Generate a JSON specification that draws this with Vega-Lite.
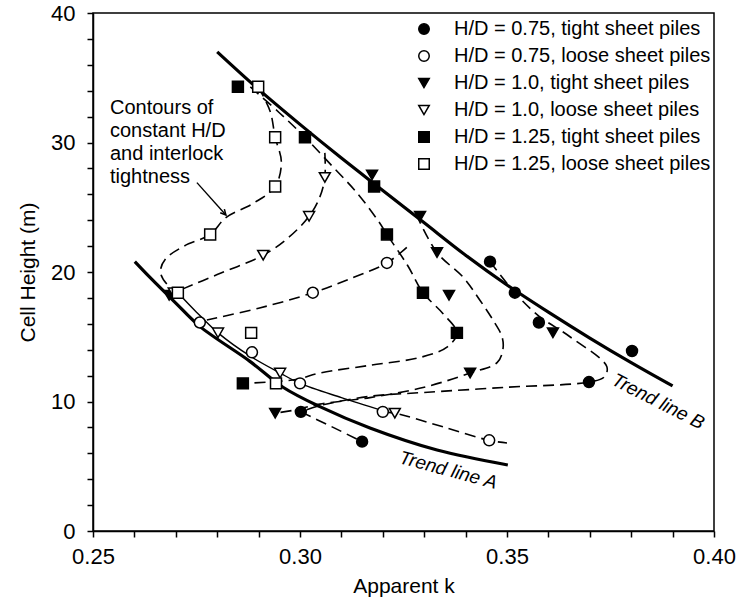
{
  "$schema": "https://vega.github.io/schema/vega-lite/v6.json",
  "width": 621,
  "height": 518,
  "autosize": {"type": "none"},
  "padding": {"left": 93, "top": 13, "right": 24, "bottom": 80},
  "background": "white",
  "config": {
    "font": "Liberation Sans",
    "view": {"stroke": "black", "strokeWidth": 1.5},
    "axis": {"grid": false, "domainColor": "black", "domainWidth": 1.5, "tickColor": "black", "tickWidth": 1.5, "tickSize": 6, "labelColor": "black", "titleColor": "black", "labelFontSize": 22, "titleFontSize": 21, "labelFont": "Liberation Sans", "titleFont": "Liberation Sans", "titleFontWeight": "normal"},
    "legend": {"labelFont": "Liberation Sans"}
  },
  "datasets": {
    "pts": [
      {"series": "H/D = 0.75, tight sheet piles", "k": 0.3459, "h": 20.8},
      {"series": "H/D = 0.75, tight sheet piles", "k": 0.3519, "h": 18.4},
      {"series": "H/D = 0.75, tight sheet piles", "k": 0.3577, "h": 16.1},
      {"series": "H/D = 0.75, tight sheet piles", "k": 0.3802, "h": 13.9},
      {"series": "H/D = 0.75, tight sheet piles", "k": 0.3698, "h": 11.5},
      {"series": "H/D = 0.75, tight sheet piles", "k": 0.3002, "h": 9.2},
      {"series": "H/D = 0.75, tight sheet piles", "k": 0.3150, "h": 6.9},
      {"series": "H/D = 0.75, loose sheet piles", "k": 0.3210, "h": 20.7},
      {"series": "H/D = 0.75, loose sheet piles", "k": 0.3031, "h": 18.4},
      {"series": "H/D = 0.75, loose sheet piles", "k": 0.2758, "h": 16.1},
      {"series": "H/D = 0.75, loose sheet piles", "k": 0.2884, "h": 13.8},
      {"series": "H/D = 0.75, loose sheet piles", "k": 0.3000, "h": 11.4},
      {"series": "H/D = 0.75, loose sheet piles", "k": 0.3200, "h": 9.2},
      {"series": "H/D = 0.75, loose sheet piles", "k": 0.3457, "h": 7.0},
      {"series": "H/D = 1.0, tight sheet piles", "k": 0.3174, "h": 27.5},
      {"series": "H/D = 1.0, tight sheet piles", "k": 0.3290, "h": 24.3},
      {"series": "H/D = 1.0, tight sheet piles", "k": 0.3331, "h": 21.5},
      {"series": "H/D = 1.0, tight sheet piles", "k": 0.3360, "h": 18.2},
      {"series": "H/D = 1.0, tight sheet piles", "k": 0.3611, "h": 15.3},
      {"series": "H/D = 1.0, tight sheet piles", "k": 0.3411, "h": 12.2},
      {"series": "H/D = 1.0, tight sheet piles", "k": 0.2940, "h": 9.1},
      {"series": "H/D = 1.0, tight sheet piles", "k": 0.2684, "h": 18.2},
      {"series": "H/D = 1.0, loose sheet piles", "k": 0.3060, "h": 27.3},
      {"series": "H/D = 1.0, loose sheet piles", "k": 0.3022, "h": 24.3},
      {"series": "H/D = 1.0, loose sheet piles", "k": 0.2911, "h": 21.3},
      {"series": "H/D = 1.0, loose sheet piles", "k": 0.2695, "h": 18.4},
      {"series": "H/D = 1.0, loose sheet piles", "k": 0.2802, "h": 15.3},
      {"series": "H/D = 1.0, loose sheet piles", "k": 0.2952, "h": 12.2},
      {"series": "H/D = 1.0, loose sheet piles", "k": 0.3229, "h": 9.1},
      {"series": "H/D = 1.25, tight sheet piles", "k": 0.2850, "h": 34.3},
      {"series": "H/D = 1.25, tight sheet piles", "k": 0.3012, "h": 30.4},
      {"series": "H/D = 1.25, tight sheet piles", "k": 0.3179, "h": 26.6},
      {"series": "H/D = 1.25, tight sheet piles", "k": 0.3210, "h": 22.9},
      {"series": "H/D = 1.25, tight sheet piles", "k": 0.3297, "h": 18.4},
      {"series": "H/D = 1.25, tight sheet piles", "k": 0.3379, "h": 15.3},
      {"series": "H/D = 1.25, tight sheet piles", "k": 0.2862, "h": 11.4},
      {"series": "H/D = 1.25, loose sheet piles", "k": 0.2899, "h": 34.3},
      {"series": "H/D = 1.25, loose sheet piles", "k": 0.2940, "h": 30.4},
      {"series": "H/D = 1.25, loose sheet piles", "k": 0.2940, "h": 26.6},
      {"series": "H/D = 1.25, loose sheet piles", "k": 0.2783, "h": 22.9},
      {"series": "H/D = 1.25, loose sheet piles", "k": 0.2705, "h": 18.4},
      {"series": "H/D = 1.25, loose sheet piles", "k": 0.2882, "h": 15.3},
      {"series": "H/D = 1.25, loose sheet piles", "k": 0.2942, "h": 11.4}
    ],
    "curves": [
      {"c": "A", "t": "thick", "o": 1, "k": 0.2601, "h": 20.8},
      {"c": "A", "t": "thick", "o": 2, "k": 0.2637, "h": 19.6},
      {"c": "A", "t": "thick", "o": 3, "k": 0.2700, "h": 17.6},
      {"c": "A", "t": "thick", "o": 4, "k": 0.2758, "h": 15.8},
      {"c": "A", "t": "thick", "o": 5, "k": 0.2879, "h": 13.1},
      {"c": "A", "t": "thick", "o": 6, "k": 0.2959, "h": 11.1},
      {"c": "A", "t": "thick", "o": 7, "k": 0.3048, "h": 9.6},
      {"c": "A", "t": "thick", "o": 8, "k": 0.3169, "h": 7.95},
      {"c": "A", "t": "thick", "o": 9, "k": 0.3331, "h": 6.25},
      {"c": "A", "t": "thick", "o": 10, "k": 0.3502, "h": 5.1},
      {"c": "B", "t": "thick", "o": 1, "k": 0.2800, "h": 37.0},
      {"c": "B", "t": "thick", "o": 2, "k": 0.2900, "h": 34.1},
      {"c": "B", "t": "thick", "o": 3, "k": 0.3000, "h": 31.4},
      {"c": "B", "t": "thick", "o": 4, "k": 0.3100, "h": 28.8},
      {"c": "B", "t": "thick", "o": 5, "k": 0.3200, "h": 26.3},
      {"c": "B", "t": "thick", "o": 6, "k": 0.3300, "h": 23.8},
      {"c": "B", "t": "thick", "o": 7, "k": 0.3400, "h": 21.3},
      {"c": "B", "t": "thick", "o": 8, "k": 0.3500, "h": 19.0},
      {"c": "B", "t": "thick", "o": 9, "k": 0.3600, "h": 16.9},
      {"c": "B", "t": "thick", "o": 10, "k": 0.3700, "h": 14.9},
      {"c": "B", "t": "thick", "o": 11, "k": 0.3800, "h": 13.0},
      {"c": "B", "t": "thick", "o": 12, "k": 0.3900, "h": 11.2},
      {"c": "L1", "t": "thin", "o": 1, "k": 0.2705, "h": 18.4},
      {"c": "L1", "t": "thin", "o": 2, "k": 0.2750, "h": 16.9},
      {"c": "L1", "t": "thin", "o": 3, "k": 0.2802, "h": 15.3},
      {"c": "L1", "t": "thin", "o": 4, "k": 0.2880, "h": 13.5},
      {"c": "L1", "t": "thin", "o": 5, "k": 0.2952, "h": 12.2},
      {"c": "L1", "t": "thin", "o": 6, "k": 0.3000, "h": 11.4},
      {"c": "L1", "t": "thin", "o": 7, "k": 0.3100, "h": 10.3},
      {"c": "L1", "t": "thin", "o": 8, "k": 0.3200, "h": 9.3},
      {"c": "AR", "t": "thin", "o": 1, "k": 0.2751, "h": 26.9},
      {"c": "AR", "t": "thin", "o": 2, "k": 0.2821, "h": 24.4},
      {"c": "C1", "t": "dash", "o": 1, "k": 0.2899, "h": 34.3},
      {"c": "C1", "t": "dash", "o": 2, "k": 0.2928, "h": 32.4},
      {"c": "C1", "t": "dash", "o": 3, "k": 0.2940, "h": 30.4},
      {"c": "C1", "t": "dash", "o": 4, "k": 0.2955, "h": 28.5},
      {"c": "C1", "t": "dash", "o": 5, "k": 0.2940, "h": 26.6},
      {"c": "C1", "t": "dash", "o": 6, "k": 0.2887, "h": 25.3},
      {"c": "C1", "t": "dash", "o": 7, "k": 0.2821, "h": 24.2},
      {"c": "C1", "t": "dash", "o": 8, "k": 0.2783, "h": 22.9},
      {"c": "C1", "t": "dash", "o": 9, "k": 0.2720, "h": 22.0},
      {"c": "C1", "t": "dash", "o": 10, "k": 0.2675, "h": 21.0},
      {"c": "C1", "t": "dash", "o": 11, "k": 0.2663, "h": 20.0},
      {"c": "C1", "t": "dash", "o": 12, "k": 0.2680, "h": 19.0},
      {"c": "C1", "t": "dash", "o": 13, "k": 0.2705, "h": 18.4},
      {"c": "C2", "t": "dash", "o": 1, "k": 0.3060, "h": 29.2},
      {"c": "C2", "t": "dash", "o": 2, "k": 0.3060, "h": 27.3},
      {"c": "C2", "t": "dash", "o": 3, "k": 0.3048, "h": 25.8},
      {"c": "C2", "t": "dash", "o": 4, "k": 0.3022, "h": 24.3},
      {"c": "C2", "t": "dash", "o": 5, "k": 0.2970, "h": 22.6},
      {"c": "C2", "t": "dash", "o": 6, "k": 0.2911, "h": 21.3},
      {"c": "C2", "t": "dash", "o": 7, "k": 0.2800, "h": 19.8},
      {"c": "C2", "t": "dash", "o": 8, "k": 0.2710, "h": 18.6},
      {"c": "C3", "t": "dash", "o": 1, "k": 0.3258, "h": 21.9},
      {"c": "C3", "t": "dash", "o": 2, "k": 0.3210, "h": 20.7},
      {"c": "C3", "t": "dash", "o": 3, "k": 0.3130, "h": 19.6},
      {"c": "C3", "t": "dash", "o": 4, "k": 0.3031, "h": 18.4},
      {"c": "C3", "t": "dash", "o": 5, "k": 0.2900, "h": 17.2},
      {"c": "C3", "t": "dash", "o": 6, "k": 0.2775, "h": 16.3},
      {"c": "C4", "t": "dash", "o": 1, "k": 0.2880, "h": 34.3},
      {"c": "C4", "t": "dash", "o": 2, "k": 0.2950, "h": 32.3},
      {"c": "C4", "t": "dash", "o": 3, "k": 0.3012, "h": 30.4},
      {"c": "C4", "t": "dash", "o": 4, "k": 0.3080, "h": 28.1},
      {"c": "C4", "t": "dash", "o": 5, "k": 0.3138, "h": 26.1},
      {"c": "C4", "t": "dash", "o": 6, "k": 0.3190, "h": 23.9},
      {"c": "C4", "t": "dash", "o": 7, "k": 0.3210, "h": 22.9},
      {"c": "C4", "t": "dash", "o": 8, "k": 0.3260, "h": 20.5},
      {"c": "C4", "t": "dash", "o": 9, "k": 0.3297, "h": 18.4},
      {"c": "C4", "t": "dash", "o": 10, "k": 0.3345, "h": 16.8},
      {"c": "C4", "t": "dash", "o": 11, "k": 0.3379, "h": 15.3},
      {"c": "C4", "t": "dash", "o": 12, "k": 0.3355, "h": 14.2},
      {"c": "C4", "t": "dash", "o": 13, "k": 0.3290, "h": 13.4},
      {"c": "C4", "t": "dash", "o": 14, "k": 0.3170, "h": 12.8},
      {"c": "C4", "t": "dash", "o": 15, "k": 0.3048, "h": 12.2},
      {"c": "C4", "t": "dash", "o": 16, "k": 0.2990, "h": 11.7},
      {"c": "C4", "t": "dash", "o": 17, "k": 0.2862, "h": 11.4},
      {"c": "C5", "t": "dash", "o": 1, "k": 0.3280, "h": 24.5},
      {"c": "C5", "t": "dash", "o": 2, "k": 0.3331, "h": 21.5},
      {"c": "C5", "t": "dash", "o": 3, "k": 0.3394, "h": 19.6},
      {"c": "C5", "t": "dash", "o": 4, "k": 0.3435, "h": 17.8},
      {"c": "C5", "t": "dash", "o": 5, "k": 0.3466, "h": 16.3},
      {"c": "C5", "t": "dash", "o": 6, "k": 0.3488, "h": 15.0},
      {"c": "C5", "t": "dash", "o": 7, "k": 0.3490, "h": 14.0},
      {"c": "C5", "t": "dash", "o": 8, "k": 0.3476, "h": 13.0},
      {"c": "C5", "t": "dash", "o": 9, "k": 0.3411, "h": 12.2},
      {"c": "C5", "t": "dash", "o": 10, "k": 0.3300, "h": 11.1},
      {"c": "C5", "t": "dash", "o": 11, "k": 0.3169, "h": 10.3},
      {"c": "C5", "t": "dash", "o": 12, "k": 0.3048, "h": 9.8},
      {"c": "C5", "t": "dash", "o": 13, "k": 0.2980, "h": 9.3},
      {"c": "C5", "t": "dash", "o": 14, "k": 0.2940, "h": 9.1},
      {"c": "C6", "t": "dash", "o": 1, "k": 0.3459, "h": 20.8},
      {"c": "C6", "t": "dash", "o": 2, "k": 0.3519, "h": 18.4},
      {"c": "C6", "t": "dash", "o": 3, "k": 0.3577, "h": 16.6},
      {"c": "C6", "t": "dash", "o": 4, "k": 0.3652, "h": 15.0},
      {"c": "C6", "t": "dash", "o": 5, "k": 0.3741, "h": 12.7},
      {"c": "C6", "t": "dash", "o": 6, "k": 0.3735, "h": 11.9},
      {"c": "C6", "t": "dash", "o": 7, "k": 0.3698, "h": 11.5},
      {"c": "C6", "t": "dash", "o": 8, "k": 0.3500, "h": 11.1},
      {"c": "C6", "t": "dash", "o": 9, "k": 0.3300, "h": 10.7},
      {"c": "C6", "t": "dash", "o": 10, "k": 0.3169, "h": 10.4},
      {"c": "C6", "t": "dash", "o": 11, "k": 0.3050, "h": 9.7},
      {"c": "C6", "t": "dash", "o": 12, "k": 0.3002, "h": 9.2},
      {"c": "C7", "t": "dash", "o": 1, "k": 0.3002, "h": 9.2},
      {"c": "C7", "t": "dash", "o": 2, "k": 0.3080, "h": 8.0},
      {"c": "C7", "t": "dash", "o": 3, "k": 0.3150, "h": 6.9},
      {"c": "C8", "t": "dash", "o": 1, "k": 0.3200, "h": 9.2},
      {"c": "C8", "t": "dash", "o": 2, "k": 0.3229, "h": 9.1},
      {"c": "C8", "t": "dash", "o": 3, "k": 0.3350, "h": 8.0},
      {"c": "C8", "t": "dash", "o": 4, "k": 0.3457, "h": 7.0},
      {"c": "C8", "t": "dash", "o": 5, "k": 0.3500, "h": 6.8}
    ],
    "notes": [
      {"label": "Contours of", "k": 0.2541, "h": 32.7},
      {"label": "constant H/D", "k": 0.2541, "h": 30.9},
      {"label": "and interlock", "k": 0.2541, "h": 29.1},
      {"label": "tightness", "k": 0.2541, "h": 27.3}
    ],
    "trendnotes": [
      {"label": "Trend line A", "k": 0.3358, "h": 4.7, "ang": 15},
      {"label": "Trend line B", "k": 0.3865, "h": 10.0, "ang": 27}
    ],
    "arrowhead": [
      {"k": 0.2821, "h": 24.4, "ang": 139}
    ]
  },
  "encoding": {
    "x": {"field": "k", "type": "quantitative", "title": "Apparent k",
      "scale": {"domain": [0.25, 0.40], "nice": false, "zero": false},
      "axis": {"values": [0.25,0.26,0.27,0.28,0.29,0.30,0.31,0.32,0.33,0.34,0.35,0.36,0.37,0.38,0.39,0.40],
        "labelExpr": "abs(round(datum.value*100) % 5) == 0 ? format(datum.value, '.2f') : ''",
        "labelPadding": 9, "titlePadding": 8, "labelFlush": false, "labelOverlap": false}},
    "y": {"field": "h", "type": "quantitative", "title": "Cell Height (m)",
      "scale": {"domain": [0, 40], "nice": false, "zero": false},
      "axis": {"values": [0,2,4,6,8,10,12,14,16,18,20,22,24,26,28,30,32,34,36,38,40],
        "labelExpr": "datum.value % 10 == 0 ? datum.label : ''",
        "labelPadding": 12, "titlePadding": 12, "labelFlush": false, "labelOverlap": false}}
  },
  "layer": [
    {
      "data": {"name": "curves"},
      "transform": [{"filter": "datum.t == 'dash'"}],
      "mark": {"type": "line", "interpolate": "catmull-rom", "strokeDash": [11, 6], "strokeWidth": 1.6, "color": "black"},
      "encoding": {"detail": {"field": "c"}, "order": {"field": "o", "type": "quantitative"}}
    },
    {
      "data": {"name": "curves"},
      "transform": [{"filter": "datum.t == 'thick'"}],
      "mark": {"type": "line", "interpolate": "catmull-rom", "strokeWidth": 3.2, "color": "black"},
      "encoding": {"detail": {"field": "c"}, "order": {"field": "o", "type": "quantitative"}}
    },
    {
      "data": {"name": "curves"},
      "transform": [{"filter": "datum.t == 'thin'"}],
      "mark": {"type": "line", "interpolate": "catmull-rom", "strokeWidth": 1.4, "color": "black"},
      "encoding": {"detail": {"field": "c"}, "order": {"field": "o", "type": "quantitative"}}
    },
    {
      "data": {"name": "arrowhead"},
      "mark": {"type": "point", "shape": "M-0.5,1L0,0L0.5,1", "filled": false, "stroke": "black", "strokeWidth": 1.5, "size": 120, "opacity": 1},
      "encoding": {"angle": {"field": "ang", "type": "quantitative", "scale": null}}
    },
    {
      "data": {"name": "pts"},
      "mark": {"type": "point", "filled": true, "strokeWidth": 1.5, "size": 120, "opacity": 1},
      "encoding": {
        "stroke": {"value": "black"},
        "shape": {"field": "series", "type": "nominal",
          "scale": {"domain": ["H/D = 0.75, tight sheet piles", "H/D = 0.75, loose sheet piles", "H/D = 1.0, tight sheet piles", "H/D = 1.0, loose sheet piles", "H/D = 1.25, tight sheet piles", "H/D = 1.25, loose sheet piles"],
            "range": ["circle", "circle", "triangle-down", "triangle-down", "square", "square"]},
          "legend": {"title": null, "orient": "none", "legendX": 321, "legendY": 6, "labelFontSize": 20, "labelColor": "black", "labelLimit": 500, "symbolSize": 110, "rowPadding": 7, "labelOffset": 20, "padding": 0,
            "encode": {"symbols": {"update": {"stroke": {"value": "black"}, "strokeWidth": {"value": 1.5}, "opacity": {"value": 1}}}}}},
        "fill": {"field": "series", "type": "nominal",
          "scale": {"domain": ["H/D = 0.75, tight sheet piles", "H/D = 0.75, loose sheet piles", "H/D = 1.0, tight sheet piles", "H/D = 1.0, loose sheet piles", "H/D = 1.25, tight sheet piles", "H/D = 1.25, loose sheet piles"],
            "range": ["black", "white", "black", "white", "black", "white"]}}
      }
    },
    {
      "data": {"name": "notes"},
      "mark": {"type": "text", "align": "left", "baseline": "middle", "fontSize": 20, "font": "Liberation Sans", "color": "black"},
      "encoding": {"text": {"field": "label"}}
    },
    {
      "data": {"name": "trendnotes"},
      "mark": {"type": "text", "align": "center", "baseline": "middle", "fontSize": 19, "font": "Liberation Sans", "fontStyle": "italic", "color": "black"},
      "encoding": {"text": {"field": "label"}, "angle": {"field": "ang", "type": "quantitative", "scale": null}}
    }
  ]
}
